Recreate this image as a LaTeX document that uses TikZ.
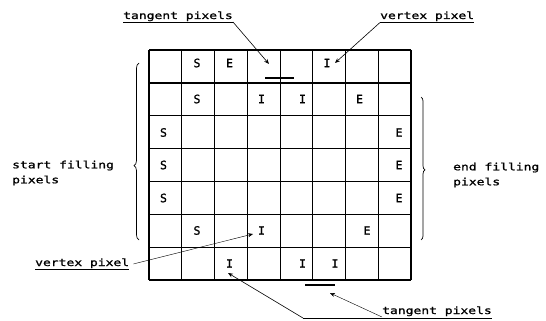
\documentclass[tikz,border=0pt]{standalone}
\usepackage{fontspec}
\newfontfamily\labfont[FakeStretch=1.3,FakeBold=1.2]{DejaVu Sans Mono}
\newfontfamily\cellfont[FakeBold=1.2]{DejaVu Sans Mono}
\usetikzlibrary{decorations.pathreplacing,arrows.meta}
\begin{document}
\begin{tikzpicture}[x=1pt,y=-1pt,
  lab/.style={font=\labfont\fontsize{10}{15}\selectfont, inner sep=0pt, align=left},
  cell/.style={font=\cellfont\fontsize{11.5}{12}\selectfont, inner sep=0pt},
  arr/.style={line width=0.6pt, -{Stealth[length=5pt,width=4pt]}},
  thinarr/.style={line width=0.4pt, -{Stealth[length=5pt,width=4pt]}},
  ul/.style={line width=0.8pt},
  gridline/.style={line width=1.1pt},
  bracestyle/.style={line width=0.7pt, decorate},
  tanmark/.style={line width=1.3pt}]
\useasboundingbox (0,0) rectangle (546,321);
% grid
\foreach \x in {149,181.5,214.5,247.5,280.5,312.5,345.5,378.5,411} \draw[gridline] (\x,50) -- (\x,280);
\foreach \y in {50,83,115.5,148.5,181.5,214.5,247.5,280} \draw[gridline] (149,\y) -- (411,\y);
% row 1
\node[cell] (r1s) at (197,63) {S};
\node[cell] (r1e) at (229.5,63) {E};
\node[cell] (r1i) at (327,63) {I};
% row 2
\node[cell] (r2s) at (197,99) {S};
\node[cell] (r2i1) at (261.5,99) {I};
\node[cell] (r2i2) at (302.5,99) {I};
\node[cell] (r2e) at (359.5,99) {E};
% rows 3-5
\node[cell] (r3s) at (163.5,132.5) {S};
\node[cell] (r3e) at (399,132.5) {E};
\node[cell] (r4s) at (163.5,165) {S};
\node[cell] (r4e) at (399,165) {E};
\node[cell] (r5s) at (163.5,198) {S};
\node[cell] (r5e) at (399,198) {E};
% row 6
\node[cell] (r6s) at (197,230.5) {S};
\node[cell] (r6i) at (261.5,230.5) {I};
\node[cell] (r6e) at (367,230.5) {E};
% row 7
\node[cell] (r7i1) at (229.5,263.5) {I};
\node[cell] (r7i2) at (302.5,263.5) {I};
\node[cell] (r7i3) at (335,263.5) {I};
% tangent marks
\draw[tanmark] (265,78) -- (294,78);
\draw[tanmark] (305,285) -- (335,285);
\coordinate (ttop) at (269,64);
\coordinate (tbot) at (330,293);
\coordinate (vtop) at (335,63);
\coordinate (vmid) at (253,234);
\coordinate (ibot) at (228,273);
% braces
\draw[bracestyle, decoration={brace, amplitude=5pt, aspect=0.42}] (139,240) -- (139,63);
\draw[bracestyle, decoration={brace, amplitude=4pt, aspect=0.51}] (421,97) -- (421,240);
% labels
\node[lab, anchor=base west] (tpt) at (123,19) {tangent pixels};
\draw[ul] ([yshift=-3pt]tpt.base west) -- ([yshift=-3pt]tpt.base east);
\draw[arr] ([yshift=-3pt]tpt.base east) -- (ttop);
\node[lab, anchor=base west] (vpt) at (380,19) {vertex pixel};
\draw[ul] ([yshift=-3.5pt]vpt.base west) -- ([yshift=-3.5pt]vpt.base east);
\draw[arr] ([yshift=-3.5pt]vpt.base west) -- (vtop);
\node[lab, anchor=west] (sfp) at (12,173) {start filling\\pixels};
\node[lab, anchor=west] (efp) at (453,175) {end filling\\pixels};
\node[lab, anchor=base west] (vpb) at (35,266) {vertex pixel};
\draw[ul] ([yshift=-3.5pt]vpb.base west) -- ([yshift=-3.5pt]vpb.base east);
\draw[thinarr] ([xshift=4pt,yshift=2pt]vpb.base east) -- (vmid);
\node[lab, anchor=base west] (tpb) at (382,314) {tangent pixels};
\coordinate (lead) at (303,318);
\draw[ul] (lead) -- ([yshift=-4pt]tpb.base east);
\draw[arr] (lead) -- (ibot);
\draw[thinarr] ([yshift=-3pt]tpb.base west) -- (tbot);
\end{tikzpicture}
\end{document}
